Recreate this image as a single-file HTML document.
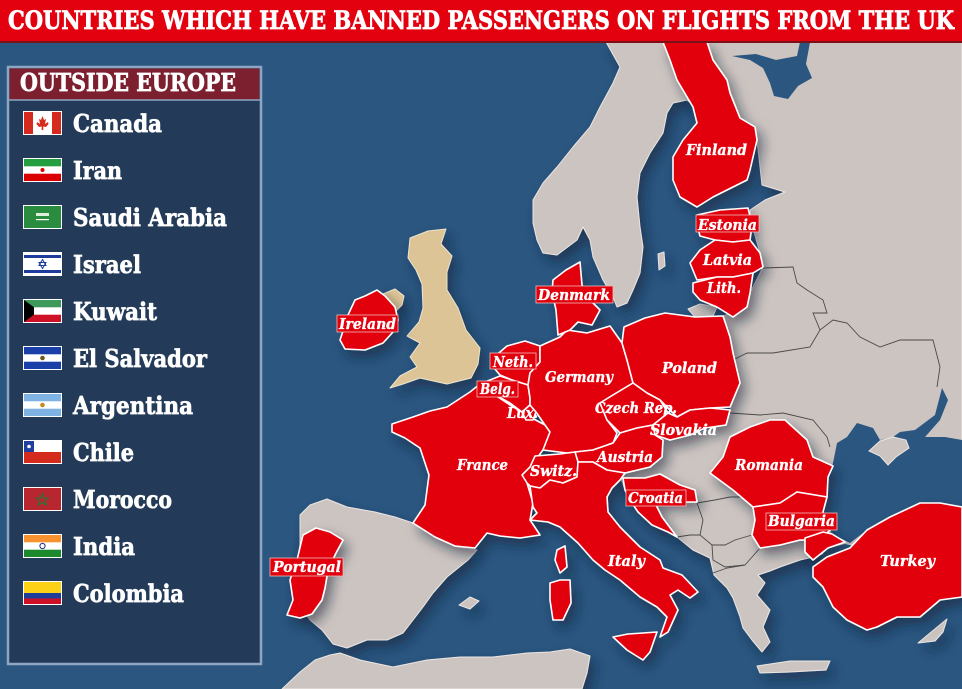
<!DOCTYPE html>
<html><head><meta charset="utf-8"><style>
html,body{margin:0;padding:0;background:#2a5680;}
svg{display:block;}
.lbl{font-family:"DejaVu Serif","Liberation Serif",serif;font-weight:bold;font-style:italic;font-size:15px;fill:#fff;stroke:#fff;stroke-width:0.35;}
.leg{font-family:"DejaVu Serif","Liberation Serif",serif;font-weight:bold;font-size:24px;fill:#fff;stroke:#fff;stroke-width:0.7;}
</style></head><body>
<svg width="962" height="689" viewBox="0 0 962 689" xmlns="http://www.w3.org/2000/svg">
<defs>
<filter id="sh" x="-10%" y="-10%" width="130%" height="130%">
<feDropShadow dx="5" dy="7" stdDeviation="6" flood-color="#0b2038" flood-opacity="0.55"/>
</filter>
</defs>
<rect x="0" y="0" width="962" height="689" fill="#2a5680"/>

<!-- GRAY LAND -->
<g filter="url(#sh)" fill="#ccc4c0" stroke="#ece6e3" stroke-width="1" stroke-linejoin="round">
<path d="M606,42 L665,42 L670,60 L677,80 L692,104 L687,100 L673,103 L667,113 L663,133 L650,153 L640,173 L637,197 L640,227 L643,247 L640,273 L633,290 L627,303 L617,307 L613,297 L603,280 L593,257 L590,240 L583,227 L577,240 L557,255 L543,253 L537,240 L533,223 L533,200 L543,183 L557,167 L573,147 L590,127 L600,107 L613,83 L620,67 Z"/>
<path d="M706,42 L962,42 L962,520 L850,545 L813,557 L800,560 L780,567 L770,571 L758,575 L765,583 L757,595 L770,610 L763,627 L770,642 L762,652 L752,640 L743,628 L740,617 L733,598 L727,588 L714,575 L710,558 L693,550 L677,537 L660,520 L640,500 L625,490 L620,476 L635,470 L650,467 L662,457 L663,440 L690,435 L726,425 L730,410 L740,383 L733,353 L730,337 L723,316 L740,310 L750,293 L763,267 L760,253 L752,225 L750,210 L765,200 L785,192 L762,185 L757,140 L740,118 L727,80 L713,60 Z"/>
<path d="M300,515 L310,505 L327,499 L347,507 L375,512 L395,517 L413,523 L435,537 L457,547 L477,550 L468,560 L447,577 L433,593 L423,607 L413,620 L403,633 L387,640 L367,640 L347,648 L333,644 L322,630 L310,620 L300,605 L295,575 L300,545 Z"/>
<path d="M282,689 L300,672 L315,660 L330,655 L340,653 L360,660 L393,667 L427,660 L460,657 L493,657 L527,653 L550,652 L570,649 L590,656 L587,673 L582,689 Z"/>
<path d="M688,309 L700,304 L717,307 L713,316 L695,317 Z"/>
<path d="M757,666 L790,661 L830,661 L826,670 L790,672 L760,673 Z"/>
<path d="M918,643 L930,633 L947,619 L943,632 L935,641 Z"/>
<path d="M459,605 L470,597 L479,601 L470,609 Z"/>
<path d="M658,254 L664,252 L665,266 L659,270 Z"/>
</g>
<g filter="url(#sh)">
<path fill="#dcc496" stroke="#eee4cf" stroke-width="1" stroke-linejoin="round" d="M410,238 L428,231 L446,229 L441,244 L452,256 L447,272 L447,290 L458,308 L466,330 L480,348 L478,364 L471,378 L447,384 L420,378 L403,384 L390,388 L400,376 L417,367 L410,357 L420,343 L407,336 L419,322 L423,308 L422,284 L416,270 L408,258 Z"/>
<path fill="#dcc496" stroke="#eee4cf" stroke-width="1" d="M383,294 L395,289 L404,296 L402,305 L396,311 L388,302 Z"/>
</g>

<g fill="#2a5680">
<path d="M732,56 L750,60 L763,68 L770,83 L774,96 L788,99 L798,86 L812,78 L806,64 L810,42 L800,42 L797,56 L776,60 L756,54 Z"/>
<path d="M833,463 L837,443 L847,437 L857,423 L873,428 L880,440 L893,437 L900,432 L915,430 L935,415 L942,388 L948,400 L940,420 L925,437 L945,437 L962,440 L962,507 L940,503 L920,503 L890,517 L867,530 L850,543 L832,534 L823,512 L827,497 L828,477 Z"/>
<path d="M826,549 L845,544 L858,547 L838,557 L820,559 Z"/>
</g>
<path fill="#ccc4c0" stroke="#ece6e3" stroke-width="1" d="M869,451 L880,441 L893,437 L906,440 L909,448 L896,457 L888,465 L880,456 Z"/>

<g fill="none" stroke="#4a4a4a" stroke-width="0.9">
<path d="M763,268 L793,267 L797,283 L807,290 L823,300 L827,313 L813,313 L820,330"/>
<path d="M733,360 L747,353 L773,353 L810,347 L820,330 L833,320 L847,323 L860,337 L880,347 L900,340 L933,340 L940,367 L937,387"/>
<path d="M730,413 L760,415 L783,413 L813,420 L827,437 L830,447"/>
<path d="M697,503 L715,500 L730,497 L747,497"/>
<path d="M697,503 L703,520 L700,535 L712,545 L725,545 L735,540 L752,535"/>
<path d="M712,545 L713,560 L725,567 L745,565 L760,548"/>
<path d="M677,537 L690,535 L700,535"/>
<path d="M713,573 L727,568 L745,565"/>
</g>

<g filter="url(#sh)" fill="#e2000d" stroke="#ffffff" stroke-width="1.6" stroke-linejoin="round">
<path d="M663,42 L707,42 L713,60 L727,80 L730,93 L740,118 L755,127 L757,140 L750,170 L747,180 L733,187 L713,197 L697,207 L680,197 L673,180 L673,157 L683,140 L697,123 L693,107 L677,80 L670,60 Z"/>
<path d="M697,215 L720,210 L748,208 L752,225 L750,240 L733,242 L715,240 L700,236 L697,225 Z"/>
<path d="M690,263 L700,250 L715,240 L733,242 L750,240 L760,253 L763,267 L753,273 L733,277 L717,277 L697,280 Z"/>
<path d="M693,283 L717,277 L733,277 L753,273 L750,293 L747,307 L733,317 L717,307 L700,300 L693,292 Z"/>
<path d="M377,290 L385,296 L395,307 L398,320 L393,332 L383,343 L365,350 L345,349 L340,340 L344,328 L348,315 L355,300 L365,296 Z"/>
<path d="M392,424 L413,417 L430,411 L447,407 L470,392 L480,384 L495,395 L510,405 L522,412 L530,417 L545,425 L550,432 L543,450 L530,467 L527,483 L533,503 L530,520 L540,535 L520,538 L500,536 L487,533 L475,548 L455,546 L435,537 L413,523 L425,505 L429,475 L420,448 L405,438 L392,432 Z"/>
<path d="M493,358 L507,346 L525,341 L540,346 L540,362 L530,373 L528,385 L512,380 L500,375 L494,368 Z"/>
<path d="M480,384 L500,376 L512,380 L528,385 L530,398 L530,405 L522,412 L510,403 L497,396 Z"/>
<path d="M522,412 L530,405 L536,412 L533,420 L526,420 Z"/>
<path d="M540,346 L560,337 L567,330 L587,333 L610,326 L622,343 L627,360 L633,383 L613,395 L600,403 L607,420 L617,433 L613,443 L593,450 L567,453 L543,450 L550,432 L545,425 L536,412 L530,405 L530,398 L528,385 L530,373 L540,362 Z"/>
<path d="M553,280 L566,270 L580,262 L582,285 L590,300 L600,310 L592,325 L578,322 L570,330 L558,335 L556,310 L552,292 Z"/>
<path d="M622,343 L624,327 L645,318 L665,313 L695,317 L723,316 L730,337 L733,353 L740,383 L730,407 L710,408 L690,410 L677,417 L660,400 L647,393 L633,383 L627,360 Z"/>
<path d="M600,403 L613,395 L633,383 L647,393 L660,400 L668,413 L653,425 L637,428 L620,433 L607,420 Z"/>
<path d="M668,413 L677,417 L690,410 L710,408 L730,410 L726,425 L705,428 L690,435 L670,440 L655,435 L653,425 Z"/>
<path d="M613,443 L620,433 L637,428 L653,425 L655,435 L663,440 L662,457 L650,467 L625,473 L607,470 L593,462 L578,462 L575,452 L593,450 Z"/>
<path d="M527,483 L522,475 L530,467 L535,456 L560,454 L575,452 L578,462 L577,477 L563,483 L550,480 L540,488 L530,486 Z"/>
<path d="M530,520 L537,513 L533,507 L530,486 L540,488 L550,480 L563,483 L577,477 L578,462 L593,462 L607,470 L625,473 L620,480 L612,488 L607,497 L608,512 L620,527 L640,547 L660,560 L663,568 L682,575 L698,592 L690,598 L678,590 L670,595 L678,610 L668,632 L660,637 L667,617 L657,607 L640,597 L620,580 L605,570 L593,560 L578,543 L560,527 L548,522 Z"/>
<path d="M613,637 L628,634 L643,633 L657,632 L650,652 L643,660 L627,650 Z"/>
<path d="M550,583 L560,580 L570,580 L571,603 L563,620 L553,620 L550,600 Z"/>
<path d="M557,550 L565,546 L567,567 L560,573 L555,560 Z"/>
<path d="M623,478 L645,478 L660,474 L680,485 L695,490 L697,502 L675,502 L655,503 L662,517 L677,537 L668,532 L652,525 L638,512 L630,500 L625,490 Z"/>
<path d="M723,457 L730,437 L750,427 L770,420 L785,420 L807,440 L813,457 L833,466 L828,477 L827,497 L797,492 L780,503 L753,507 L733,490 L710,473 Z"/>
<path d="M753,507 L780,503 L797,492 L827,497 L823,512 L830,530 L820,540 L800,540 L780,545 L760,548 L752,535 L755,520 Z"/>
<path d="M813,567 L827,557 L850,548 L867,530 L890,517 L920,503 L940,503 L962,507 L962,597 L940,600 L920,617 L897,617 L877,627 L867,630 L847,620 L833,607 L823,587 L813,577 Z"/>
<path d="M805,538 L823,532 L832,534 L845,542 L828,548 L813,560 L805,552 Z"/>
<path d="M303,535 L316,528 L330,532 L343,540 L336,553 L328,570 L325,588 L322,600 L312,614 L300,618 L287,615 L293,600 L290,580 L297,560 Z"/>
</g>

<g fill="#e2000d" stroke="#f0b8b8" stroke-width="0.8">
<rect x="337" y="315" width="61" height="17"/>
<rect x="270" y="558" width="73" height="18"/>
<rect x="536" y="286" width="77" height="17"/>
<rect x="696" y="215" width="63" height="17"/>
<rect x="490" y="353" width="46" height="16"/>
<rect x="477" y="381" width="41" height="16"/>
<rect x="626" y="490" width="60" height="16"/>
<rect x="766" y="513" width="71" height="17"/>
</g>

<g class="lbl">
<text x="686" y="155" textLength="61" lengthAdjust="spacingAndGlyphs">Finland</text>
<text x="698" y="230" textLength="59" lengthAdjust="spacingAndGlyphs">Estonia</text>
<text x="703" y="265" textLength="49" lengthAdjust="spacingAndGlyphs">Latvia</text>
<text x="707" y="293" textLength="34" lengthAdjust="spacingAndGlyphs">Lith.</text>
<text x="538" y="300" textLength="72" lengthAdjust="spacingAndGlyphs">Denmark</text>
<text x="339" y="329" textLength="57" lengthAdjust="spacingAndGlyphs">Ireland</text>
<text x="273" y="572" textLength="68" lengthAdjust="spacingAndGlyphs">Portugal</text>
<text x="493" y="367" textLength="40" lengthAdjust="spacingAndGlyphs">Neth.</text>
<text x="545" y="382" textLength="68" lengthAdjust="spacingAndGlyphs">Germany</text>
<text x="480" y="394" textLength="35" lengthAdjust="spacingAndGlyphs">Belg.</text>
<text x="507" y="418" textLength="31" lengthAdjust="spacingAndGlyphs">Lux.</text>
<text x="662" y="373" textLength="55" lengthAdjust="spacingAndGlyphs">Poland</text>
<text x="595" y="413" textLength="82" lengthAdjust="spacingAndGlyphs">Czech Rep.</text>
<text x="650" y="435" textLength="67" lengthAdjust="spacingAndGlyphs">Slovakia</text>
<text x="597" y="462" textLength="56" lengthAdjust="spacingAndGlyphs">Austria</text>
<text x="457" y="470" textLength="51" lengthAdjust="spacingAndGlyphs">France</text>
<text x="530" y="476" textLength="47" lengthAdjust="spacingAndGlyphs">Switz.</text>
<text x="628" y="503" textLength="55" lengthAdjust="spacingAndGlyphs">Croatia</text>
<text x="735" y="470" textLength="68" lengthAdjust="spacingAndGlyphs">Romania</text>
<text x="768" y="526" textLength="67" lengthAdjust="spacingAndGlyphs">Bulgaria</text>
<text x="608" y="566" textLength="37" lengthAdjust="spacingAndGlyphs">Italy</text>
<text x="880" y="566" textLength="55" lengthAdjust="spacingAndGlyphs">Turkey</text>
</g>

<rect x="0" y="0" width="962" height="42" fill="#e3000f"/>
<rect x="0" y="41" width="962" height="2" fill="#7a1018"/>
<text x="8" y="29" textLength="946" lengthAdjust="spacingAndGlyphs" style="font-family:'DejaVu Serif','Liberation Serif',serif;font-weight:bold;font-size:25px;fill:#fff;stroke:#fff;stroke-width:0.8;">COUNTRIES WHICH HAVE BANNED PASSENGERS ON FLIGHTS FROM THE UK</text>

<rect x="8" y="67" width="253" height="597" fill="#233b58" stroke="#8ea6c2" stroke-width="2.5"/>
<rect x="9.5" y="68.5" width="250" height="31" fill="#7c2030"/>
<line x1="9" y1="100" x2="260" y2="100" stroke="#8ea6c2" stroke-width="1.5"/>
<text class="leg" x="20" y="91" textLength="216" lengthAdjust="spacingAndGlyphs">OUTSIDE EUROPE</text>

<g class="leg">
<text x="73" y="132" textLength="89" lengthAdjust="spacingAndGlyphs">Canada</text>
<text x="73" y="179" textLength="49" lengthAdjust="spacingAndGlyphs">Iran</text>
<text x="73" y="226" textLength="154" lengthAdjust="spacingAndGlyphs">Saudi Arabia</text>
<text x="73" y="273" textLength="68" lengthAdjust="spacingAndGlyphs">Israel</text>
<text x="73" y="320" textLength="84" lengthAdjust="spacingAndGlyphs">Kuwait</text>
<text x="73" y="367" textLength="134" lengthAdjust="spacingAndGlyphs">El Salvador</text>
<text x="73" y="414" textLength="120" lengthAdjust="spacingAndGlyphs">Argentina</text>
<text x="73" y="461" textLength="61" lengthAdjust="spacingAndGlyphs">Chile</text>
<text x="73" y="508" textLength="99" lengthAdjust="spacingAndGlyphs">Morocco</text>
<text x="73" y="555" textLength="62" lengthAdjust="spacingAndGlyphs">India</text>
<text x="73" y="602" textLength="111" lengthAdjust="spacingAndGlyphs">Colombia</text>
</g>

<g transform="translate(24,112)">
<rect x="-1" y="-1" width="39" height="24" fill="#fff"/>
<rect x="0" y="0" width="9" height="22" fill="#d52b1e"/><rect x="28" y="0" width="9" height="22" fill="#d52b1e"/>
<path d="M18.5,4 L20,8 L22,7 L21,12 L24,10 L24.5,12 L22,15 L19.3,14.5 L19.3,18 L17.7,18 L17.7,14.5 L15,15 L12.5,12 L13,10 L16,12 L15,7 L17,8 Z" fill="#d52b1e"/>
</g>
<g transform="translate(24,159)">
<rect x="-1" y="-1" width="39" height="24" fill="#fff"/>
<rect x="0" y="0" width="37" height="7.3" fill="#239f40"/><rect x="0" y="14.7" width="37" height="7.3" fill="#da0000"/>
<circle cx="18.5" cy="11" r="2" fill="#da0000"/>
</g>
<g transform="translate(24,206)">
<rect x="-1" y="-1" width="39" height="24" fill="#fff"/>
<rect x="0" y="0" width="37" height="22" fill="#2a8c3e"/>
<rect x="12" y="7" width="13" height="3" fill="#dfeedd"/><rect x="12" y="13" width="13" height="1.2" fill="#fff"/>
</g>
<g transform="translate(24,253)">
<rect x="-1" y="-1" width="39" height="24" fill="#fff"/>
<rect x="0" y="2" width="37" height="3" fill="#1c3b9c"/><rect x="0" y="17" width="37" height="3" fill="#1c3b9c"/>
<path d="M18.5,6.5 L22,12.5 L15,12.5 Z M18.5,15.5 L15,9.5 L22,9.5 Z" fill="none" stroke="#1c3b9c" stroke-width="1"/>
</g>
<g transform="translate(24,300)">
<rect x="-1" y="-1" width="39" height="24" fill="#fff"/>
<rect x="0" y="0" width="37" height="7.3" fill="#3d9a5a"/><rect x="0" y="14.7" width="37" height="7.3" fill="#ce1126"/>
<path d="M0,0 L10,7.3 L10,14.7 L0,22 Z" fill="#000"/>
</g>
<g transform="translate(24,347)">
<rect x="-1" y="-1" width="39" height="24" fill="#fff"/>
<rect x="0" y="0" width="37" height="7.3" fill="#1a3fa8"/><rect x="0" y="14.7" width="37" height="7.3" fill="#1a3fa8"/>
<circle cx="18.5" cy="11" r="2.3" fill="#6b5a1e"/>
</g>
<g transform="translate(24,394)">
<rect x="-1" y="-1" width="39" height="24" fill="#fff"/>
<rect x="0" y="0" width="37" height="7.3" fill="#7fb3e3"/><rect x="0" y="14.7" width="37" height="7.3" fill="#7fb3e3"/>
<circle cx="18.5" cy="11" r="2.3" fill="#c98a1a"/>
</g>
<g transform="translate(24,441)">
<rect x="-1" y="-1" width="39" height="24" fill="#fff"/>
<rect x="0" y="11" width="37" height="11" fill="#d52b1e"/>
<rect x="0" y="0" width="10" height="11" fill="#1f3ea0"/>
<circle cx="5" cy="5.5" r="1.8" fill="#fff"/>
</g>
<g transform="translate(24,488)">
<rect x="-1" y="-1" width="39" height="24" fill="#fff"/>
<rect x="0" y="0" width="37" height="22" fill="#b8262f"/>
<path d="M18.5,5.5 L20,10 L24.5,10 L21,13 L22.5,17 L18.5,14.5 L14.5,17 L16,13 L12.5,10 L17,10 Z" fill="none" stroke="#1f7a3a" stroke-width="1.1"/>
</g>
<g transform="translate(24,535)">
<rect x="-1" y="-1" width="39" height="24" fill="#fff"/>
<rect x="0" y="0" width="37" height="7.3" fill="#f7922e"/><rect x="0" y="14.7" width="37" height="7.3" fill="#1c8a2c"/>
<circle cx="18.5" cy="11" r="2.6" fill="none" stroke="#1f2f8a" stroke-width="1"/>
</g>
<g transform="translate(24,582)">
<rect x="-1" y="-1" width="39" height="24" fill="#fff"/>
<rect x="0" y="0" width="37" height="11" fill="#fcd116"/>
<rect x="0" y="11" width="37" height="5.5" fill="#1f3e9c"/>
<rect x="0" y="16.5" width="37" height="5.5" fill="#ce1126"/>
</g>
</svg>
</body></html>
